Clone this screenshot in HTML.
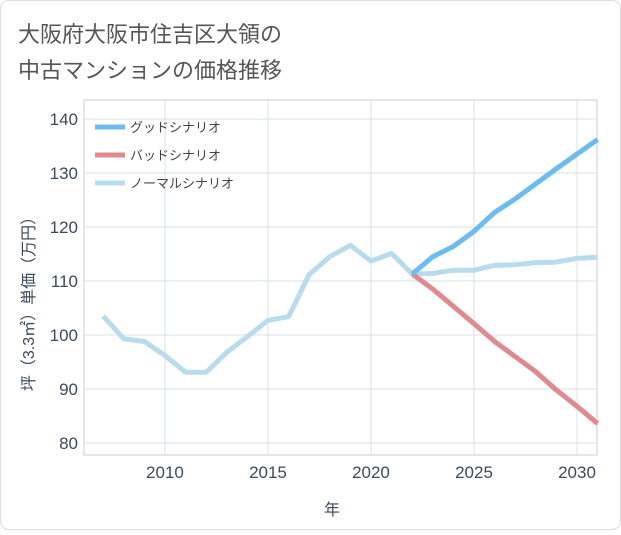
<!DOCTYPE html>
<html><head><meta charset="utf-8"><style>
body{margin:0;background:#fff;}
.wrap{position:relative;width:621px;height:530px;}
</style></head><body>
<div class="wrap">
<svg id="chart" width="621" height="530" style="font-family:'Liberation Sans','Noto Sans CJK JP',sans-serif">
<rect x="0.5" y="0.5" width="620" height="529" rx="8" fill="#fff" stroke="#ddd"/>
<text x="18" y="42" font-size="22" fill="#555">大阪府大阪市住吉区大領の</text>
<text x="18" y="78" font-size="22" fill="#555">中古マンションの価格推移</text>
<g id="grid"></g><g id="series"></g><g id="axes"></g>
<g>
<line x1="95" y1="127" x2="125" y2="127" stroke="#6cbcf0" stroke-width="5"/>
<text x="130" y="132" font-size="13" fill="#444">グッドシナリオ</text>
<line x1="95" y1="155" x2="125" y2="155" stroke="#e08a8f" stroke-width="5"/>
<text x="130" y="160" font-size="13" fill="#444">バッドシナリオ</text>
<line x1="95" y1="183" x2="125" y2="183" stroke="#b8dcec" stroke-width="5"/>
<text x="130" y="188" font-size="13" fill="#444">ノーマルシナリオ</text>
</g>
<text x="332" y="515" font-size="16" fill="#3c4a5c" text-anchor="middle">年</text>
<text transform="translate(34,300) rotate(-90)" font-size="16" fill="#3c4a5c" text-anchor="middle">坪（3.3㎡）単価（万円）</text>
</svg>
</div>
<script>
const normalYears=[2007,2008,2009,2010,2011,2012,2013,2014,2015,2016,2017,2018,2019,2020,2021,2022,2023,2024,2025,2026,2027,2028,2029,2030,2031];
const normalValues=[103.5,99.3,98.8,96.2,93.1,93.1,96.8,99.7,102.7,103.4,111.2,114.5,116.6,113.7,115.1,111.3,111.4,112,112,112.9,113,113.4,113.5,114.2,114.4];
const scenarioYears=[2022,2023,2024,2025,2026,2027,2028,2029,2030,2031];
const goodValues=[111.3,114.5,116.4,119.2,122.7,125.2,128,130.8,133.5,136.2];
const badValues=[111.3,108.5,105.3,102.1,98.8,96,93.2,89.8,86.8,83.6];
const xTicks=[2010,2015,2020,2025,2030];
const yTicks=[80,90,100,110,120,130,140];
const L=84,R=597,T=100,B=455;
const x=v=>L+(v-2006.07)*(R-L)/(2030.97-2006.07);
const y=v=>443+(v-80)*(119-443)/60;
const NS='http://www.w3.org/2000/svg';
function mk(tag,attrs,parent){const e=document.createElementNS(NS,tag);for(const k in attrs)e.setAttribute(k,attrs[k]);parent.appendChild(e);return e;}
const grid=document.getElementById('grid'),axes=document.getElementById('axes'),series=document.getElementById('series');
const bg=mk('rect',{x:L,y:T,width:R-L,height:B-T,fill:'#fff',stroke:'#ccc'},grid);


xTicks.forEach(t=>{
 const g=mk('line',{x1:x(t),x2:x(t),y1:T,y2:B,stroke:'#d8e2ea'},grid);
 
 
 const tx=mk('text',{x:x(t),y:478,'font-size':17,fill:'#3c4a5c','text-anchor':'middle'},axes);tx.textContent=t;
 
 
});
yTicks.forEach(t=>{
 const g=mk('line',{x1:L,x2:R,y1:y(t),y2:y(t),stroke:'#d8e2ea'},grid);
 
 
 const tx=mk('text',{x:78,y:y(t)+6,'font-size':17,fill:'#3c4a5c','text-anchor':'end'},axes);tx.textContent=t;
 
 
});
function line(xs,vs,color,name){
 const p=mk('polyline',{points:xs.map((a,i)=>x(a)+','+y(vs[i])).join(' '),fill:'none',stroke:color,'stroke-width':5,'stroke-linejoin':'round'},series);
 
 
}
line(normalYears,normalValues,'#b8dcec','normal-scenario-line');
line(scenarioYears,badValues,'#e08a8f','bad-scenario-line');
line(scenarioYears,goodValues,'#6cbcf0','good-scenario-line');
</script>
</body></html>
